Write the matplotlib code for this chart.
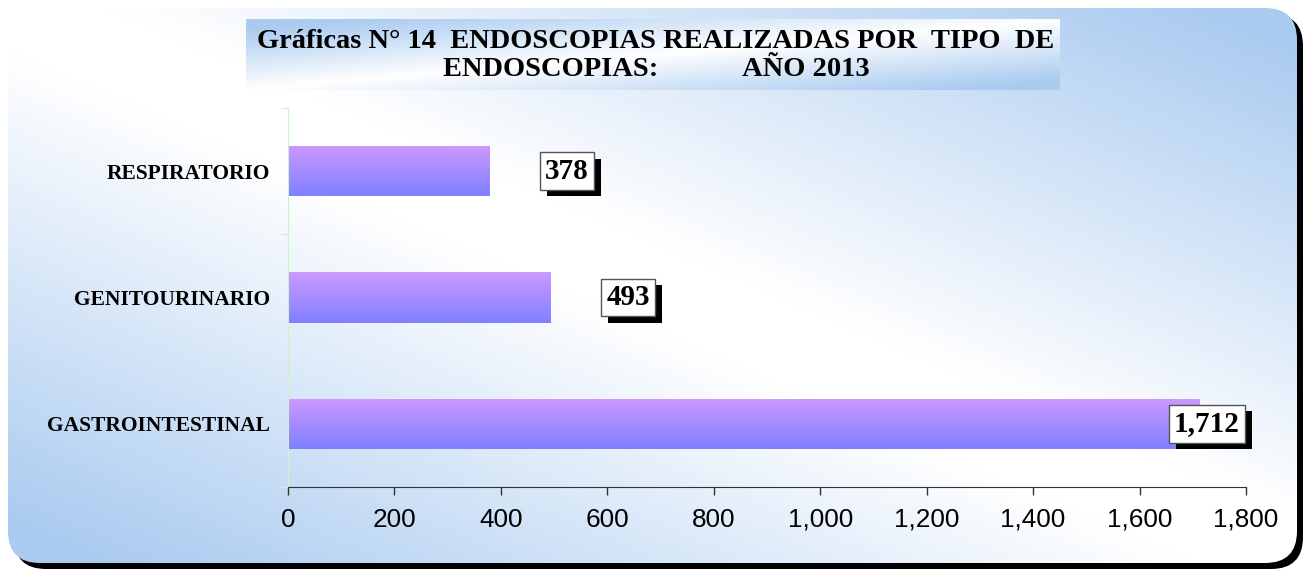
import numpy as np
import matplotlib
matplotlib.use('Agg')
import matplotlib.pyplot as plt
import matplotlib.patheffects as pe
from matplotlib.patches import FancyBboxPatch
from matplotlib.ticker import FuncFormatter

# data
categories = ['GASTROINTESTINAL', 'GENITOURINARIO', 'RESPIRATORIO']
values = [1712, 493, 378]
x_ticks = [0, 200, 400, 600, 800, 1000, 1200, 1400, 1600, 1800]
title_lines = ['Gráficas N° 14  ENDOSCOPIAS REALIZADAS POR  TIPO  DE',
               'ENDOSCOPIAS:            AÑO 2013']

W, H = 1309, 569
BLUE = np.array([170, 203, 240]) / 255.0
SERIF = 'Liberation Serif'

fig = plt.figure(figsize=(W / 100, H / 100), dpi=100)

# --- background panel: rounded box with a black drop shadow --------------
bg = fig.add_axes([0, 0, 1, 1])
bg.set_xlim(0, W)
bg.set_ylim(H, 0)
bg.set_axis_off()

px0, py0, px1, py1 = 8, 8, 1297, 563
shadow = FancyBboxPatch((px0 + 6, py0 + 6), px1 - px0, py1 - py0,
                        boxstyle='round,pad=0,rounding_size=32',
                        fc='black', ec='none', zorder=0)
bg.add_patch(shadow)
panel = FancyBboxPatch((px0, py0), px1 - px0, py1 - py0,
                       boxstyle='round,pad=0,rounding_size=32',
                       fc='none', ec='none', zorder=1)
bg.add_patch(panel)

gx, gy = np.meshgrid(np.linspace(0, 1, 300), np.linspace(0, 1, 150))
t = np.clip((np.abs(gx - gy) - 0.08) / 0.85, 0, 1)[..., None]
img = (1 - t) * np.ones(3) + t * BLUE
im = bg.imshow(img, extent=(px0, px1, py1, py0), aspect='auto', zorder=1,
               interpolation='bilinear')
im.set_clip_path(panel)

# --- title box --------------------------------------------------------------
tx0, ty0, tx1, ty1 = 246, 19, 1060, 90
gx, gy = np.meshgrid(np.linspace(0, 1, 200), np.linspace(0, 1, 60))
t2 = np.clip(np.abs(gx + gy - 1) * 1.15, 0, 1)[..., None]
timg = (1 - t2) * np.ones(3) + t2 * BLUE
bg.imshow(timg, extent=(tx0, tx1, ty1, ty0), aspect='auto', zorder=2,
          interpolation='bilinear')
bg.text((tx0 + tx1) / 2 + 3, 41, title_lines[0], ha='center', va='center',
        family=SERIF, weight='bold', fontsize=20.5, zorder=3)
bg.text((tx0 + tx1) / 2 + 3, 69, title_lines[1], ha='center', va='center',
        family=SERIF, weight='bold', fontsize=20.5, zorder=3)
bg.set_xlim(0, W)
bg.set_ylim(H, 0)

# --- the bar chart ------------------------------------------------------------
ax = fig.add_axes([288 / W, 1 - 487 / H, (1246 - 288) / W, (487 - 108) / H])
ax.patch.set_alpha(0)
y = np.arange(len(categories))
bars = ax.barh(y, values, height=0.4, color='none', edgecolor='none', zorder=2)

grad = np.linspace(0, 1, 100)[:, None, None]
top_c = np.array([204, 153, 255]) / 255.0
bot_c = np.array([128, 128, 255]) / 255.0
bar_img = (1 - grad) * bot_c + grad * top_c
for b in bars:
    x0, y0 = b.get_x(), b.get_y()
    gi = ax.imshow(bar_img, extent=(x0, x0 + b.get_width(), y0, y0 + b.get_height()),
                   origin='lower', aspect='auto', zorder=2, interpolation='bilinear')
    gi.set_clip_path(b)
ax.set_xlim(0, 1800)
ax.set_ylim(-0.5, len(categories) - 0.5)

# value labels in white boxes with a black offset shadow
for yi, v in zip(y, values):
    lx, ha, dx = v + 146, 'center', 0
    if lx + 60 > 1800:
        lx, ha, dx = 1800, 'right', -6
    txt = ax.annotate(f'{v:,}', xy=(lx, yi), xytext=(dx, 0),
                      textcoords='offset pixels', ha=ha, va='center',
                      family=SERIF, weight='bold', fontsize=21,
                      color='black', zorder=5,
                      bbox=dict(boxstyle='square,pad=0.18', fc='white',
                                ec='#555555', lw=1))
    txt.get_bbox_patch().set_path_effects([
        pe.SimplePatchShadow(offset=(5, -4.5), shadow_rgbFace='black', alpha=1),
        pe.Normal()])

ax.set_yticks(np.arange(-0.5, len(categories), 1))
ax.set_yticklabels([])
ax.set_yticks(y, minor=True)
ax.set_yticklabels(categories, minor=True, family=SERIF, weight='bold', fontsize=15.5)
ax.tick_params(axis='y', which='minor', length=0, pad=13)
ax.tick_params(axis='y', which='major', length=5, color='#c8f5c8', direction='out')

ax.set_xticks(x_ticks)
ax.xaxis.set_major_formatter(FuncFormatter(lambda v, p: f'{int(v):,}'))
ax.tick_params(axis='x', length=6, width=1, color='#333333', labelsize=18.8, pad=9)
for lab in ax.get_xticklabels():
    lab.set_family('Liberation Sans')

for s in ['top', 'right']:
    ax.spines[s].set_visible(False)
ax.spines['left'].set_color('#c8f5c8')
ax.spines['bottom'].set_color('#333333')

fig.savefig('out.png', dpi=100)
